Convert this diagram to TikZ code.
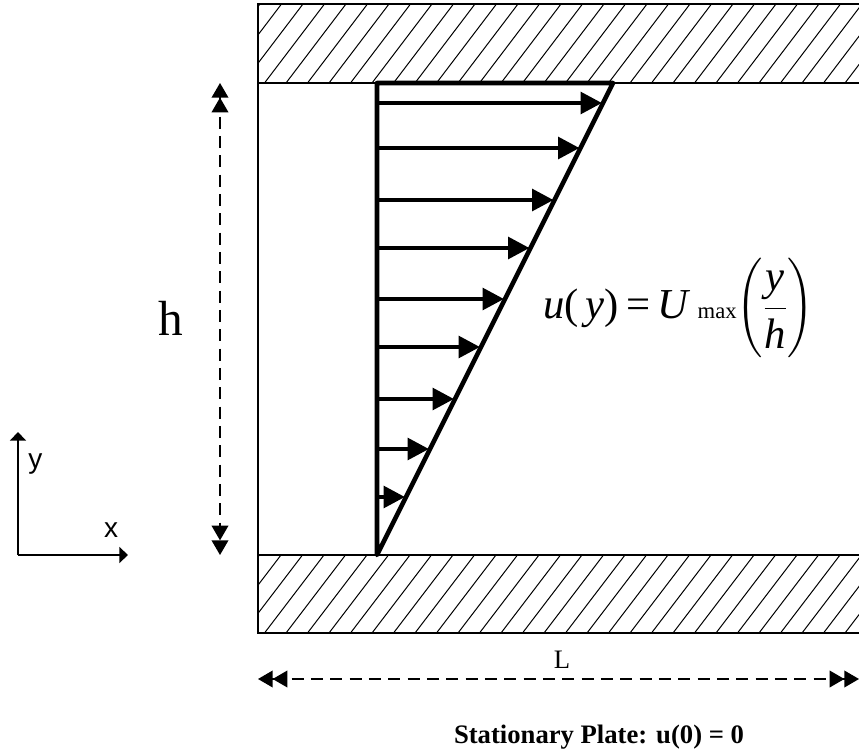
\RequirePackage{fix-cm}
\documentclass[tikz,border=0pt]{standalone}
\usepackage{amsmath}
\usepackage{fontspec}
\setmainfont{Liberation Serif}
\setsansfont{Liberation Sans}
\usetikzlibrary{arrows.meta}

\begin{document}
\begin{tikzpicture}[
    x=0.75pt, y=-0.75pt,
    wall/.style={draw=black, line width=1.5pt},
    hatch/.style={draw=black, line width=0.75pt},
    profile/.style={draw=black, line width=3.4pt, line join=round},
    vel/.style={draw=black, line width=3.4pt, -{Triangle[length=16pt,width=16pt]}},
    dim/.style={
        draw=black, line width=1.1pt, dash pattern=on 9pt off 5.5pt,
        {Triangle[length=11pt,width=12.5pt]Triangle[length=11pt,width=12.5pt]}-{Triangle[length=11pt,width=12.5pt]Triangle[length=11pt,width=12.5pt]}
    },
    axis/.style={draw=black, line width=1.1pt, -{Triangle[length=6.5pt,width=12pt]}},
    lbl/.style={inner sep=0pt, anchor=base}
]

\useasboundingbox (0,0) rectangle (859,755);

\begin{scope}
    \clip (258,4) rectangle (859,83);
    \foreach \x in {200,221.5,...,880}
        \draw[hatch] (\x,83) -- ++(60,-79);
\end{scope}
\begin{scope}
    \clip (258,555) rectangle (859,633);
    \foreach \x in {200,221.5,...,880}
        \draw[hatch] (\x,633) -- ++(59.5,-78);
\end{scope}

\draw[wall] (859,4) -| (258,633) -- (859,633);
\draw[wall] (258,83) -- (859,83);
\draw[wall] (258,555) -- (859,555);

\coordinate (p0) at (377,555);
\coordinate (p1) at (377,83);
\coordinate (p2) at (613,83);
\draw[profile] (p0) -- (p1) -- (p2) -- cycle;

\foreach \y [count=\i] in {103,148,200,248,299,347,399,449,497} {
    \pgfmathsetmacro{\xe}{377+(555-\y)*0.5-1}
    \coordinate (s\i) at (377,\y);
    \coordinate (e\i) at (\xe,\y);
    \draw[vel] (s\i) -- (e\i);
}

\node[lbl, anchor=base west, font=\fontsize{32}{36}\selectfont] (eq) at (543,319)
    {\textit{u}(\,\textit{y})\,=\,\textit{U}\,{\fontsize{17}{17}\selectfont max}$\biggl(\dfrac{\textit{y}}{\textit{h}}\biggr)$};

\coordinate (hTop) at (220,83);
\coordinate (hBot) at (220,555);
\draw[dim] (hTop) -- (hBot);
\node[lbl, font=\fontsize{37}{40}\selectfont] (hLbl) at (170.5,335) {h};

\coordinate (lLeft) at (258,679);
\coordinate (lRight) at (859,679);
\draw[dim] (lLeft) -- (lRight);
\node[lbl, font=\fontsize{20}{24}\selectfont] (lLbl) at (562,668) {L};

\node[lbl, font=\fontsize{20}{24}\selectfont\bfseries] (title) at (599,743) {Stationary Plate: u(0) = 0};

\coordinate (o) at (18,555);
\coordinate (ay) at (18,432);
\coordinate (ax) at (128,555);
\draw[axis] (o) -- (ay);
\draw[axis] (o) -- (ax);
\node[lbl, font=\sffamily\fontsize{21}{24}\selectfont] (yLbl) at (35.5,468) {y};
\node[lbl, font=\sffamily\fontsize{21}{24}\selectfont] (xLbl) at (111,537) {x};

\end{tikzpicture}
\end{document}
